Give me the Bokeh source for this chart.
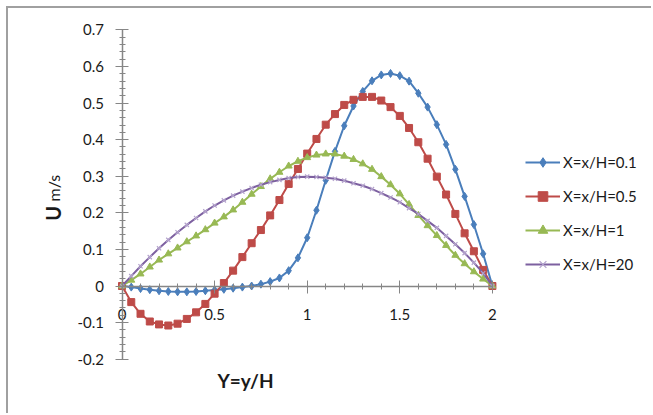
from bokeh.plotting import figure
from bokeh.models import Range1d, FixedTicker, CustomJSTickFormatter, Legend, LegendItem, Label
from bokeh.embed import file_html
from bokeh.resources import INLINE
import math

# ---- data ----
Y = [0.0, 0.05, 0.1, 0.15, 0.2, 0.25, 0.3, 0.35, 0.4, 0.45, 0.5, 0.55, 0.6, 0.65, 0.7,
     0.75, 0.8, 0.85, 0.9, 0.95, 1.0, 1.05, 1.1, 1.15, 1.2, 1.25, 1.3, 1.35, 1.4, 1.45,
     1.5, 1.55, 1.6, 1.65, 1.7, 1.75, 1.8, 1.85, 1.9, 1.95, 2.0]

U_x01 = [0.0, -0.003, -0.007, -0.010, -0.013, -0.015, -0.016, -0.016, -0.015, -0.013,
         -0.011, -0.009, -0.006, -0.003, 0.000, 0.005, 0.012, 0.022, 0.042, 0.077,
         0.132, 0.207, 0.289, 0.368, 0.438, 0.492, 0.532, 0.561, 0.577, 0.581,
         0.575, 0.560, 0.527, 0.489, 0.441, 0.387, 0.319, 0.245, 0.168, 0.088, 0.0]

U_x05 = [0.0, -0.044, -0.076, -0.097, -0.105, -0.108, -0.103, -0.090, -0.072, -0.049,
         -0.021, 0.008, 0.042, 0.079, 0.117, 0.153, 0.193, 0.235, 0.279, 0.320,
         0.362, 0.402, 0.441, 0.470, 0.495, 0.509, 0.517, 0.517, 0.507, 0.489,
         0.465, 0.432, 0.393, 0.348, 0.299, 0.250, 0.197, 0.144, 0.095, 0.044, 0.0]

U_x1 = [0.0, 0.016, 0.033, 0.052, 0.071, 0.088, 0.104, 0.121, 0.137, 0.154,
        0.172, 0.189, 0.208, 0.229, 0.251, 0.272, 0.293, 0.311, 0.328, 0.341,
        0.351, 0.358, 0.361, 0.361, 0.355, 0.346, 0.334, 0.319, 0.299, 0.277,
        0.252, 0.223, 0.193, 0.165, 0.138, 0.111, 0.084, 0.061, 0.039, 0.019, 0.0]

U_x20 = [0.0, 0.027, 0.054, 0.079, 0.103, 0.126, 0.147, 0.167, 0.186, 0.204,
         0.220, 0.234, 0.247, 0.258, 0.268, 0.277, 0.284, 0.290, 0.295, 0.298,
         0.299, 0.298, 0.296, 0.293, 0.288, 0.281, 0.274, 0.265, 0.254, 0.242,
         0.229, 0.213, 0.197, 0.178, 0.159, 0.137, 0.114, 0.090, 0.064, 0.035, 0.0]

series_names = ["X=x/H=0.1", "X=x/H=0.5", "X=x/H=1", "X=x/H=20"]
x_ticks = [0, 0.5, 1, 1.5, 2]
x_minor = [0.1, 0.2, 0.3, 0.4, 0.6, 0.7, 0.8, 0.9, 1.1, 1.2, 1.3, 1.4, 1.6, 1.7, 1.8, 1.9]
y_ticks = [-0.2, -0.1, 0, 0.1, 0.2, 0.3, 0.4, 0.5, 0.6, 0.7]
y_minor = [round(-0.2 + 0.02 * i, 2) for i in range(46)]

FONT = "Lato"
AX = "#868686"
TXT = "#1a1a1a"

# canvas occupies page pixels 8..653 x 8..415; the frame fills the whole canvas
p = figure(width=645, height=407, output_backend="svg", toolbar_location=None,
           x_range=Range1d(-0.6129, 2.8699), y_range=Range1d(-0.3540, 0.7586),
           min_border=0,
           styles={"margin-left": "6px", "margin-top": "6px",
                   "border-left": "2px solid #a0a0a0", "border-top": "2px solid #a0a0a0"})
p.grid.visible = False
p.outline_line_color = None
p.background_fill_color = "white"
p.border_fill_color = "white"

fmt = CustomJSTickFormatter(code="return tick.toFixed(1).replace(/\\.0$/, '');")

for ax in (p.xaxis[0], p.yaxis[0]):
    ax.fixed_location = 0
    ax.axis_line_color = AX
    ax.axis_line_width = 1.5
    ax.major_tick_line_color = AX
    ax.minor_tick_line_color = AX
    ax.major_tick_in = 6
    ax.major_tick_out = 7
    ax.minor_tick_in = 3
    ax.minor_tick_out = 3
    ax.major_label_text_font = FONT
    ax.major_label_text_font_size = "15px"
    ax.major_label_text_color = TXT
    ax.formatter = fmt

p.xaxis[0].bounds = (0, 2)
p.yaxis[0].bounds = (-0.2, 0.7)
p.xaxis[0].ticker = FixedTicker(ticks=x_ticks, minor_ticks=x_minor)
p.yaxis[0].ticker = FixedTicker(ticks=y_ticks, minor_ticks=y_minor)
p.xaxis[0].major_label_standoff = 16
p.yaxis[0].major_label_standoff = 11

styles = [
    (U_x01, "#4A7EBB", "diamond", 8, "#4A7EBB"),
    (U_x05, "#BE4B48", "square", 7, "#BE4B48"),
    (U_x1, "#98B954", "triangle", 7, "#98B954"),
    (U_x20, "#7D60A0", "x", 6, "#B3A2CC"),
]
items = []
for (vals, col, mk, sz, mcol), name in zip(styles, series_names):
    l = p.line(Y, vals, line_color=col, line_width=2)
    if mk == "x":
        s = p.scatter(Y, vals, marker=mk, size=sz, line_color=mcol, line_width=1.2)
    else:
        s = p.scatter(Y, vals, marker=mk, size=sz, fill_color=mcol, line_color=mcol)
    items.append(LegendItem(label=name, renderers=[l, s]))

legend = Legend(items=items, location=(517, 139), glyph_width=35, glyph_height=24,
                label_height=24, spacing=10, label_standoff=3, padding=0, margin=0,
                border_line_color=None, background_fill_alpha=0,
                label_text_font=FONT, label_text_font_size="15px", label_text_color=TXT)
p.add_layout(legend, "center")

p.add_layout(Label(x=0.667, y=-0.258, text="Y=y/H", text_align="center", text_baseline="middle",
                   text_font=FONT, text_font_style="bold", text_font_size="19px", text_color=TXT))
p.add_layout(Label(x=-0.37, y=0.199, text="U", angle=math.pi / 2, text_align="center",
                   text_baseline="alphabetic", text_font=FONT, text_font_style="bold",
                   text_font_size="20px", text_color=TXT))
p.add_layout(Label(x=-0.37, y=0.231, text="m/s", angle=math.pi / 2, text_align="left",
                   text_baseline="alphabetic", text_font=FONT,
                   text_font_size="16px", text_color=TXT))

open("out.html", "w").write(file_html(p, INLINE))
